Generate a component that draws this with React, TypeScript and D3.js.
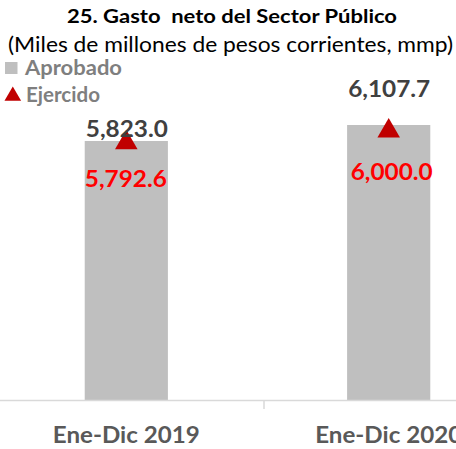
import React, { useEffect, useRef } from 'react';
import * as d3 from 'd3';

const categories = ['Ene-Dic 2019', 'Ene-Dic 2020'];
const aprobado = [5823.0, 6107.7];
const ejercido = [5792.6, 6000.0];
const aprobadoLabels = ['5,823.0', '6,107.7'];
const ejercidoLabels = ['5,792.6', '6,000.0'];
// how far each label sits from its mark (px)
const aprobadoLift = [4, 28];
const ejercidoDrop = [44.5, 49];
const ejercidoShift = [-0.5, 3];

const FONT = 'Lato, "Open Sans", sans-serif';

const App = () => {
  const svgRef = useRef<SVGSVGElement>(null);

  useEffect(() => {
    const width = 456;
    const height = 449;
    const axisY = 400;

    const svg = d3.select(svgRef.current);
    svg.selectAll('*').remove();
    svg.attr('width', width).attr('height', height);

    const x = d3.scaleBand()
      .domain(categories)
      .range([-4.5, 519.5])
      .paddingInner(0.683)
      .paddingOuter(0.34);

    const y = d3.scaleLinear()
      .domain([1210, 6107.7])
      .range([axisY, 125]);

    const cx = (i: number) => (x(categories[i]) as number) + x.bandwidth() / 2;

    // bars
    svg.selectAll('.bar')
      .data(aprobado)
      .enter().append('rect')
      .attr('class', 'bar')
      .attr('x', (d, i) => x(categories[i]) as number)
      .attr('y', d => y(d))
      .attr('width', x.bandwidth())
      .attr('height', d => axisY - y(d))
      .style('fill', '#bfbfbf');

    // axis line
    svg.append('line')
      .attr('x1', 0).attr('x2', width)
      .attr('y1', axisY + 0.5).attr('y2', axisY + 0.5)
      .style('stroke', '#d9d9d9')
      .style('stroke-width', 1.5);

    svg.append('line')
      .attr('x1', 264).attr('x2', 264)
      .attr('y1', axisY).attr('y2', axisY + 9)
      .style('stroke', '#d9d9d9')
      .style('stroke-width', 1.5);

    // category labels
    svg.selectAll('.cat')
      .data(categories)
      .enter().append('text')
      .attr('class', 'cat')
      .attr('x', (d, i) => cx(i))
      .attr('y', 443)
      .attr('text-anchor', 'middle')
      .attr('textLength', 147)
      .attr('lengthAdjust', 'spacingAndGlyphs')
      .style('font-family', FONT)
      .style('font-size', '22px')
      .style('font-weight', 'bold')
      .style('fill', '#595959')
      .text(d => d);

    // triangle markers
    const tri = d3.symbol().type(d3.symbolTriangle).size(220);
    svg.selectAll('.marker')
      .data(ejercido)
      .enter().append('path')
      .attr('class', 'marker')
      .attr('d', tri)
      .attr('transform', (d, i) => `translate(${cx(i)}, ${y(d)})`)
      .style('fill', '#c00000');

    // value labels
    svg.selectAll('.apLabel')
      .data(aprobado)
      .enter().append('text')
      .attr('class', 'apLabel')
      .attr('x', (d, i) => cx(i) + 0.5)
      .attr('y', (d, i) => y(d) - aprobadoLift[i])
      .attr('text-anchor', 'middle')
      .attr('textLength', 82)
      .attr('lengthAdjust', 'spacingAndGlyphs')
      .style('font-family', FONT)
      .style('font-size', '23.5px')
      .style('font-weight', 'bold')
      .style('fill', '#404040')
      .text((d, i) => aprobadoLabels[i]);

    svg.selectAll('.ejLabel')
      .data(ejercido)
      .enter().append('text')
      .attr('class', 'ejLabel')
      .attr('x', (d, i) => cx(i) + ejercidoShift[i])
      .attr('y', (d, i) => y(d) + ejercidoDrop[i])
      .attr('text-anchor', 'middle')
      .attr('textLength', 82)
      .attr('lengthAdjust', 'spacingAndGlyphs')
      .style('font-family', FONT)
      .style('font-size', '23.5px')
      .style('font-weight', 'bold')
      .style('fill', '#ff0000')
      .text((d, i) => ejercidoLabels[i]);

    // titles
    svg.append('text')
      .attr('x', 232)
      .attr('y', 22.5)
      .attr('text-anchor', 'middle')
      .attr('textLength', 330)
      .attr('lengthAdjust', 'spacingAndGlyphs')
      .style('white-space', 'pre')
      .style('font-family', FONT)
      .style('font-size', '18.5px')
      .style('font-weight', 'bold')
      .style('fill', '#000000')
      .text('25. Gasto  neto del Sector Público');

    svg.append('text')
      .attr('x', 230.5)
      .attr('y', 52)
      .attr('text-anchor', 'middle')
      .attr('textLength', 445)
      .attr('lengthAdjust', 'spacingAndGlyphs')
      .style('font-family', FONT)
      .style('font-size', '21px')
      .style('fill', '#000000')
      .text('(Miles de millones de pesos corrientes, mmp)');

    // legend
    const legend = svg.append('g');
    legend.append('rect')
      .attr('x', 5).attr('y', 62)
      .attr('width', 12.5).attr('height', 12)
      .style('fill', '#bfbfbf');
    legend.append('text')
      .attr('x', 25).attr('y', 75)
      .attr('textLength', 97)
      .attr('lengthAdjust', 'spacingAndGlyphs')
      .style('font-family', FONT)
      .style('font-size', '20px')
      .style('font-weight', 'bold')
      .style('fill', '#7f7f7f')
      .text('Aprobado');
    legend.append('path')
      .attr('d', d3.symbol().type(d3.symbolTriangle).size(120))
      .attr('transform', 'translate(12.8, 96)')
      .style('fill', '#c00000');
    legend.append('text')
      .attr('x', 26).attr('y', 101.5)
      .attr('textLength', 74)
      .attr('lengthAdjust', 'spacingAndGlyphs')
      .style('font-family', FONT)
      .style('font-size', '20px')
      .style('font-weight', 'bold')
      .style('fill', '#7f7f7f')
      .text('Ejercido');
  }, []);

  return (
    <div style={{ position: 'absolute', left: 0, top: 0, width: 456, height: 449, overflow: 'hidden' }}>
      <svg ref={svgRef} style={{ display: 'block' }}></svg>
    </div>
  );
};

export default App;
